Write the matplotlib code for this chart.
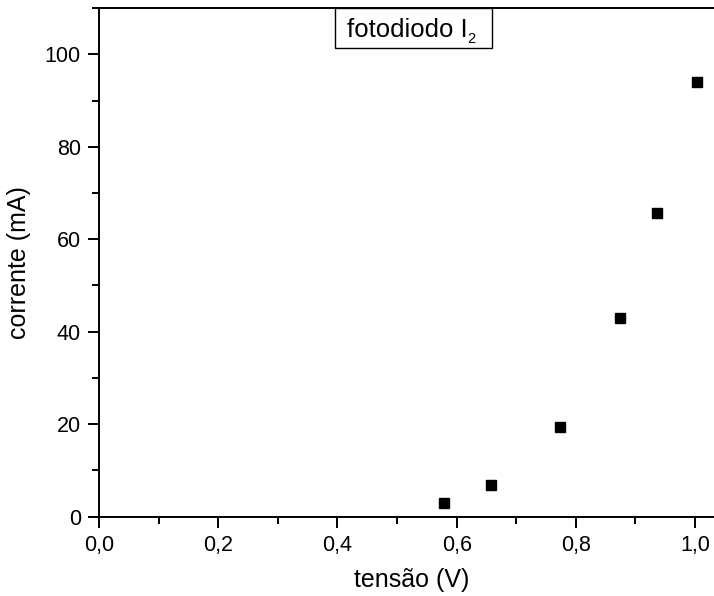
import matplotlib
matplotlib.use("Agg")
import matplotlib.pyplot as plt
from matplotlib.patches import Rectangle
from matplotlib.ticker import MultipleLocator, FuncFormatter

# measured points
tensao = [0.578, 0.658, 0.774, 0.874, 0.936, 1.003]
corrente = [3.0, 6.9, 19.3, 42.9, 65.7, 94.1]

plt.rcParams['font.family'] = ['Liberation Sans', 'DejaVu Sans']

fig = plt.figure(figsize=(7.14, 5.96), dpi=100)
# axes run past the right edge of the picture (cropped frame, like the original)
ax = fig.add_axes([0.1387, 0.1331, 0.8765, 0.8534])

ax.plot(tensao, corrente, 's', color='black', markersize=7.8, linestyle='none')

ax.set_xlim(0, 1.05)
ax.set_ylim(0, 110)

ax.xaxis.set_major_locator(MultipleLocator(0.2))
ax.xaxis.set_minor_locator(MultipleLocator(0.1))
ax.yaxis.set_major_locator(MultipleLocator(20))
ax.yaxis.set_minor_locator(MultipleLocator(10))
ax.xaxis.set_major_formatter(FuncFormatter(lambda v, p: f"{v:.1f}".replace('.', ',')))

ax.tick_params(which='both', direction='out', top=False, right=False, width=1.4)
ax.tick_params(which='major', length=8, labelsize=15.5, pad=5)
ax.tick_params(which='minor', length=5)
for s in ax.spines.values():
    s.set_linewidth(1.4)

ax.set_xlabel('tensão (V)', fontsize=18, labelpad=9)
ax.set_ylabel('corrente (mA)', fontsize=18, labelpad=10)

# legend-like label box hanging from the top frame
ax.add_patch(Rectangle((0.377, 0.9216), 0.251, 0.0784, transform=ax.transAxes,
                       fc='white', ec='black', lw=1, zorder=3, clip_on=False))
t = ax.text(0.492, 0.943, 'fotodiodo I', transform=ax.transAxes,
            ha='center', va='baseline', fontsize=18.5, zorder=4)
# Origin-style subscript: small and well below the baseline
ax.annotate('2', xy=(1, 0), xycoords=t, xytext=(0.2, -0.5), textcoords='offset points',
            ha='left', va='baseline', fontsize=10.5, zorder=4)

fig.savefig('out.png', dpi=100)
